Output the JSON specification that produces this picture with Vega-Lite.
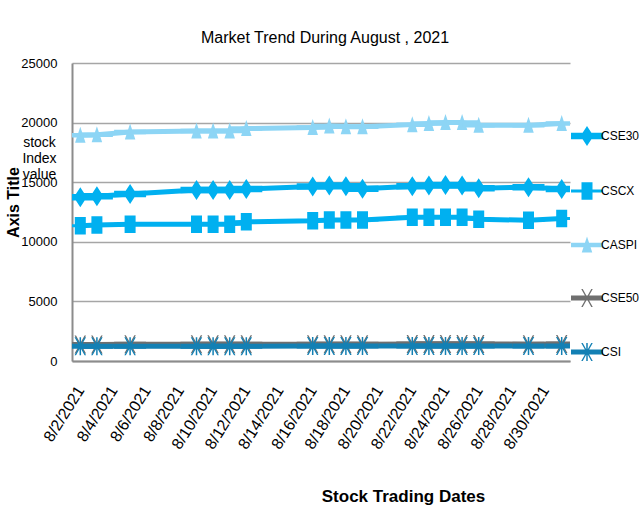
{
  "$schema": "https://vega.github.io/schema/vega-lite/v6.json",
  "width": 498,
  "height": 298,
  "autosize": "none",
  "padding": {"left": 72, "top": 63, "right": 74, "bottom": 160},
  "background": "white",
  "title": {"text": "Market Trend During August , 2021", "font": "Liberation Sans", "fontSize": 16, "fontWeight": "normal", "color": "black", "frame": "group", "offset": 11, "dx": 4},
  "config": {"view": {"stroke": null}, "font": "Liberation Sans"},
  "data": {"values": [
    {"d": "2021-08-02T00:00:00", "s": "CSE30", "v": 13740}, {"d": "2021-08-03T00:00:00", "s": "CSE30", "v": 13820}, {"d": "2021-08-05T00:00:00", "s": "CSE30", "v": 14020}, {"d": "2021-08-09T00:00:00", "s": "CSE30", "v": 14350}, {"d": "2021-08-10T00:00:00", "s": "CSE30", "v": 14350}, {"d": "2021-08-11T00:00:00", "s": "CSE30", "v": 14350}, {"d": "2021-08-12T00:00:00", "s": "CSE30", "v": 14430}, {"d": "2021-08-16T00:00:00", "s": "CSE30", "v": 14630}, {"d": "2021-08-17T00:00:00", "s": "CSE30", "v": 14720}, {"d": "2021-08-18T00:00:00", "s": "CSE30", "v": 14650}, {"d": "2021-08-19T00:00:00", "s": "CSE30", "v": 14450}, {"d": "2021-08-22T00:00:00", "s": "CSE30", "v": 14660}, {"d": "2021-08-23T00:00:00", "s": "CSE30", "v": 14720}, {"d": "2021-08-24T00:00:00", "s": "CSE30", "v": 14770}, {"d": "2021-08-25T00:00:00", "s": "CSE30", "v": 14720}, {"d": "2021-08-26T00:00:00", "s": "CSE30", "v": 14500}, {"d": "2021-08-29T00:00:00", "s": "CSE30", "v": 14580}, {"d": "2021-08-31T00:00:00", "s": "CSE30", "v": 14440},
    {"d": "2021-08-02T00:00:00", "s": "CSCX", "v": 11340}, {"d": "2021-08-03T00:00:00", "s": "CSCX", "v": 11400}, {"d": "2021-08-05T00:00:00", "s": "CSCX", "v": 11480}, {"d": "2021-08-09T00:00:00", "s": "CSCX", "v": 11480}, {"d": "2021-08-10T00:00:00", "s": "CSCX", "v": 11480}, {"d": "2021-08-11T00:00:00", "s": "CSCX", "v": 11480}, {"d": "2021-08-12T00:00:00", "s": "CSCX", "v": 11680}, {"d": "2021-08-16T00:00:00", "s": "CSCX", "v": 11760}, {"d": "2021-08-17T00:00:00", "s": "CSCX", "v": 11820}, {"d": "2021-08-18T00:00:00", "s": "CSCX", "v": 11820}, {"d": "2021-08-19T00:00:00", "s": "CSCX", "v": 11820}, {"d": "2021-08-22T00:00:00", "s": "CSCX", "v": 12050}, {"d": "2021-08-23T00:00:00", "s": "CSCX", "v": 12050}, {"d": "2021-08-24T00:00:00", "s": "CSCX", "v": 12050}, {"d": "2021-08-25T00:00:00", "s": "CSCX", "v": 12050}, {"d": "2021-08-26T00:00:00", "s": "CSCX", "v": 11900}, {"d": "2021-08-29T00:00:00", "s": "CSCX", "v": 11800}, {"d": "2021-08-31T00:00:00", "s": "CSCX", "v": 11960},
    {"d": "2021-08-02T00:00:00", "s": "CASPI", "v": 18930}, {"d": "2021-08-03T00:00:00", "s": "CASPI", "v": 18990}, {"d": "2021-08-05T00:00:00", "s": "CASPI", "v": 19215}, {"d": "2021-08-09T00:00:00", "s": "CASPI", "v": 19300}, {"d": "2021-08-10T00:00:00", "s": "CASPI", "v": 19300}, {"d": "2021-08-11T00:00:00", "s": "CASPI", "v": 19300}, {"d": "2021-08-12T00:00:00", "s": "CASPI", "v": 19500}, {"d": "2021-08-16T00:00:00", "s": "CASPI", "v": 19580}, {"d": "2021-08-17T00:00:00", "s": "CASPI", "v": 19720}, {"d": "2021-08-18T00:00:00", "s": "CASPI", "v": 19650}, {"d": "2021-08-19T00:00:00", "s": "CASPI", "v": 19650}, {"d": "2021-08-22T00:00:00", "s": "CASPI", "v": 19830}, {"d": "2021-08-23T00:00:00", "s": "CASPI", "v": 19915}, {"d": "2021-08-24T00:00:00", "s": "CASPI", "v": 20000}, {"d": "2021-08-25T00:00:00", "s": "CASPI", "v": 20000}, {"d": "2021-08-26T00:00:00", "s": "CASPI", "v": 19780}, {"d": "2021-08-29T00:00:00", "s": "CASPI", "v": 19780}, {"d": "2021-08-31T00:00:00", "s": "CASPI", "v": 19915},
    {"d": "2021-08-02T00:00:00", "s": "CSE50", "v": 1390}, {"d": "2021-08-03T00:00:00", "s": "CSE50", "v": 1390}, {"d": "2021-08-05T00:00:00", "s": "CSE50", "v": 1395}, {"d": "2021-08-09T00:00:00", "s": "CSE50", "v": 1400}, {"d": "2021-08-10T00:00:00", "s": "CSE50", "v": 1400}, {"d": "2021-08-11T00:00:00", "s": "CSE50", "v": 1400}, {"d": "2021-08-12T00:00:00", "s": "CSE50", "v": 1405}, {"d": "2021-08-16T00:00:00", "s": "CSE50", "v": 1410}, {"d": "2021-08-17T00:00:00", "s": "CSE50", "v": 1410}, {"d": "2021-08-18T00:00:00", "s": "CSE50", "v": 1410}, {"d": "2021-08-19T00:00:00", "s": "CSE50", "v": 1410}, {"d": "2021-08-22T00:00:00", "s": "CSE50", "v": 1420}, {"d": "2021-08-23T00:00:00", "s": "CSE50", "v": 1420}, {"d": "2021-08-24T00:00:00", "s": "CSE50", "v": 1420}, {"d": "2021-08-25T00:00:00", "s": "CSE50", "v": 1420}, {"d": "2021-08-26T00:00:00", "s": "CSE50", "v": 1420}, {"d": "2021-08-29T00:00:00", "s": "CSE50", "v": 1415}, {"d": "2021-08-31T00:00:00", "s": "CSE50", "v": 1425},
    {"d": "2021-08-02T00:00:00", "s": "CSI", "v": 1230}, {"d": "2021-08-03T00:00:00", "s": "CSI", "v": 1230}, {"d": "2021-08-05T00:00:00", "s": "CSI", "v": 1235}, {"d": "2021-08-09T00:00:00", "s": "CSI", "v": 1240}, {"d": "2021-08-10T00:00:00", "s": "CSI", "v": 1240}, {"d": "2021-08-11T00:00:00", "s": "CSI", "v": 1240}, {"d": "2021-08-12T00:00:00", "s": "CSI", "v": 1245}, {"d": "2021-08-16T00:00:00", "s": "CSI", "v": 1250}, {"d": "2021-08-17T00:00:00", "s": "CSI", "v": 1250}, {"d": "2021-08-18T00:00:00", "s": "CSI", "v": 1250}, {"d": "2021-08-19T00:00:00", "s": "CSI", "v": 1250}, {"d": "2021-08-22T00:00:00", "s": "CSI", "v": 1255}, {"d": "2021-08-23T00:00:00", "s": "CSI", "v": 1255}, {"d": "2021-08-24T00:00:00", "s": "CSI", "v": 1255}, {"d": "2021-08-25T00:00:00", "s": "CSI", "v": 1255}, {"d": "2021-08-26T00:00:00", "s": "CSI", "v": 1255}, {"d": "2021-08-29T00:00:00", "s": "CSI", "v": 1252}, {"d": "2021-08-31T00:00:00", "s": "CSI", "v": 1260}
  ]},
  "encoding": {
    "x": {
      "field": "d", "type": "temporal",
      "scale": {"domain": [{"year": 2021, "month": 8, "date": 1, "hours": 12}, {"year": 2021, "month": 8, "date": 31, "hours": 12}]},
      "axis": {
        "values": [
          {"year": 2021, "month": 8, "date": 2}, {"year": 2021, "month": 8, "date": 4}, {"year": 2021, "month": 8, "date": 6}, {"year": 2021, "month": 8, "date": 8}, {"year": 2021, "month": 8, "date": 10}, {"year": 2021, "month": 8, "date": 12}, {"year": 2021, "month": 8, "date": 14}, {"year": 2021, "month": 8, "date": 16}, {"year": 2021, "month": 8, "date": 18}, {"year": 2021, "month": 8, "date": 20}, {"year": 2021, "month": 8, "date": 22}, {"year": 2021, "month": 8, "date": 24}, {"year": 2021, "month": 8, "date": 26}, {"year": 2021, "month": 8, "date": 28}, {"year": 2021, "month": 8, "date": 30}
        ],
        "format": "%-m/%-d/%Y",
        "labelAngle": -58, "labelAlign": "right", "labelBaseline": "middle",
        "labelFontSize": 16, "labelColor": "black", "labelPadding": 26,
        "labelOverlap": false, "labelFlush": false, "labelBound": false,
        "ticks": false, "grid": false,
        "domainColor": "#8C8C8C", "domainWidth": 2,
        "title": "Stock Trading Dates", "titleFontSize": 17, "titleFontWeight": "bold", "titleColor": "black",
        "titleX": 331, "titleY": 135, "titleBaseline": "middle", "titleAlign": "center"
      }
    }
  },
  "layer": [
    {
      "mark": {"type": "line", "strokeJoin": "round", "strokeCap": "butt"},
      "encoding": {
        "y": {
          "field": "v", "type": "quantitative",
          "scale": {"domain": [0, 25000], "nice": false},
          "axis": {
            "orient": "left", "values": [0, 5000, 10000, 15000, 20000, 25000], "format": "d",
            "grid": true, "gridColor": "#A6A6A6", "gridWidth": 1.3,
            "domainColor": "#8C8C8C", "domainWidth": 2, "ticks": false,
            "labelFontSize": 13, "labelPadding": 15, "labelColor": "black",
            "title": ["stock", "Index", "", "value"], "titleAngle": 0, "titleAlign": "center", "titleBaseline": "top",
            "titleX": -33, "titleY": 72, "titleFontSize": 14, "titleFontWeight": "normal", "titleLineHeight": 16, "titleColor": "black"
          }
        },
        "stroke": {
          "field": "s", "type": "nominal", "legend": null,
          "scale": {"domain": ["CSI", "CSE50", "CASPI", "CSCX", "CSE30"], "range": ["#1380B4", "#6F6F6F", "#8DD5F5", "#00B0F0", "#00B0F0"]}
        },
        "strokeWidth": {
          "field": "s", "type": "nominal", "legend": null,
          "scale": {"domain": ["CSI", "CSE50", "CASPI", "CSCX", "CSE30"], "range": [5, 5, 4.5, 3, 6.5]}
        }
      }
    },
    {
      "mark": {"type": "point", "filled": true, "opacity": 1, "size": 100, "clip": true},
      "encoding": {
        "y": {
          "field": "v", "type": "quantitative",
          "axis": {
            "orient": "left", "title": "Axis Title", "labels": false, "ticks": false, "domain": false, "grid": false,
            "titleFont": "Liberation Sans", "titleFontWeight": "bold", "titleFontSize": 16, "titleColor": "black",
            "titleAngle": -90, "titleX": -59, "titleY": 139, "titleAlign": "center", "titleBaseline": "middle"
          }
        },
        "color": {
          "field": "s", "type": "nominal",
          "scale": {"domain": ["CSE30", "CSCX", "CASPI", "CSE50", "CSI"], "range": ["#00B0F0", "#00B0F0", "#8DD5F5", "#6F6F6F", "#1380B4"]},
          "legend": {
            "orient": "none", "legendX": 509, "legendY": 67, "padding": 0, "title": null,
            "symbolSize": 100, "symbolStrokeWidth": 0, "labelFontSize": 12, "labelColor": "black", "labelOffset": 8, "rowPadding": 36
          }
        },
        "shape": {
          "field": "s", "type": "nominal",
          "scale": {"domain": ["CSE30", "CSCX", "CASPI", "CSE50", "CSI"], "range": [
            "M-3.2,-0.65H3.2V0.65H-3.2Z M0,-2L1.3,0L0,2L-1.3,0Z",
            "M-3.2,-0.3H3.2V0.3H-3.2Z M-1.1,-1.75H1.1V1.75H-1.1Z",
            "M-3.2,-0.45H3.2V0.45H-3.2Z M0,-1.7L1.05,1.5H-1.05Z",
            "M-3.2,-0.5H3.2V0.5H-3.2Z M-1.15,-1.8H-0.85L1.15,1.8H0.85Z M0.85,-1.8H1.15L-0.85,1.8H-1.15Z",
            "M-3.2,-0.5H3.2V0.5H-3.2Z M-1.15,-1.8H-0.85L1.15,1.8H0.85Z M0.85,-1.8H1.15L-0.85,1.8H-1.15Z M-0.15,-1.8H0.15V1.8H-0.15Z"
          ]},
          "legend": {
            "orient": "none", "legendX": 509, "legendY": 67, "padding": 0, "title": null,
            "symbolSize": 100, "symbolStrokeWidth": 0, "labelFontSize": 12, "labelColor": "black", "labelOffset": 8, "rowPadding": 36
          }
        }
      }
    }
  ],
  "resolve": {"axis": {"y": "independent"}}
}
